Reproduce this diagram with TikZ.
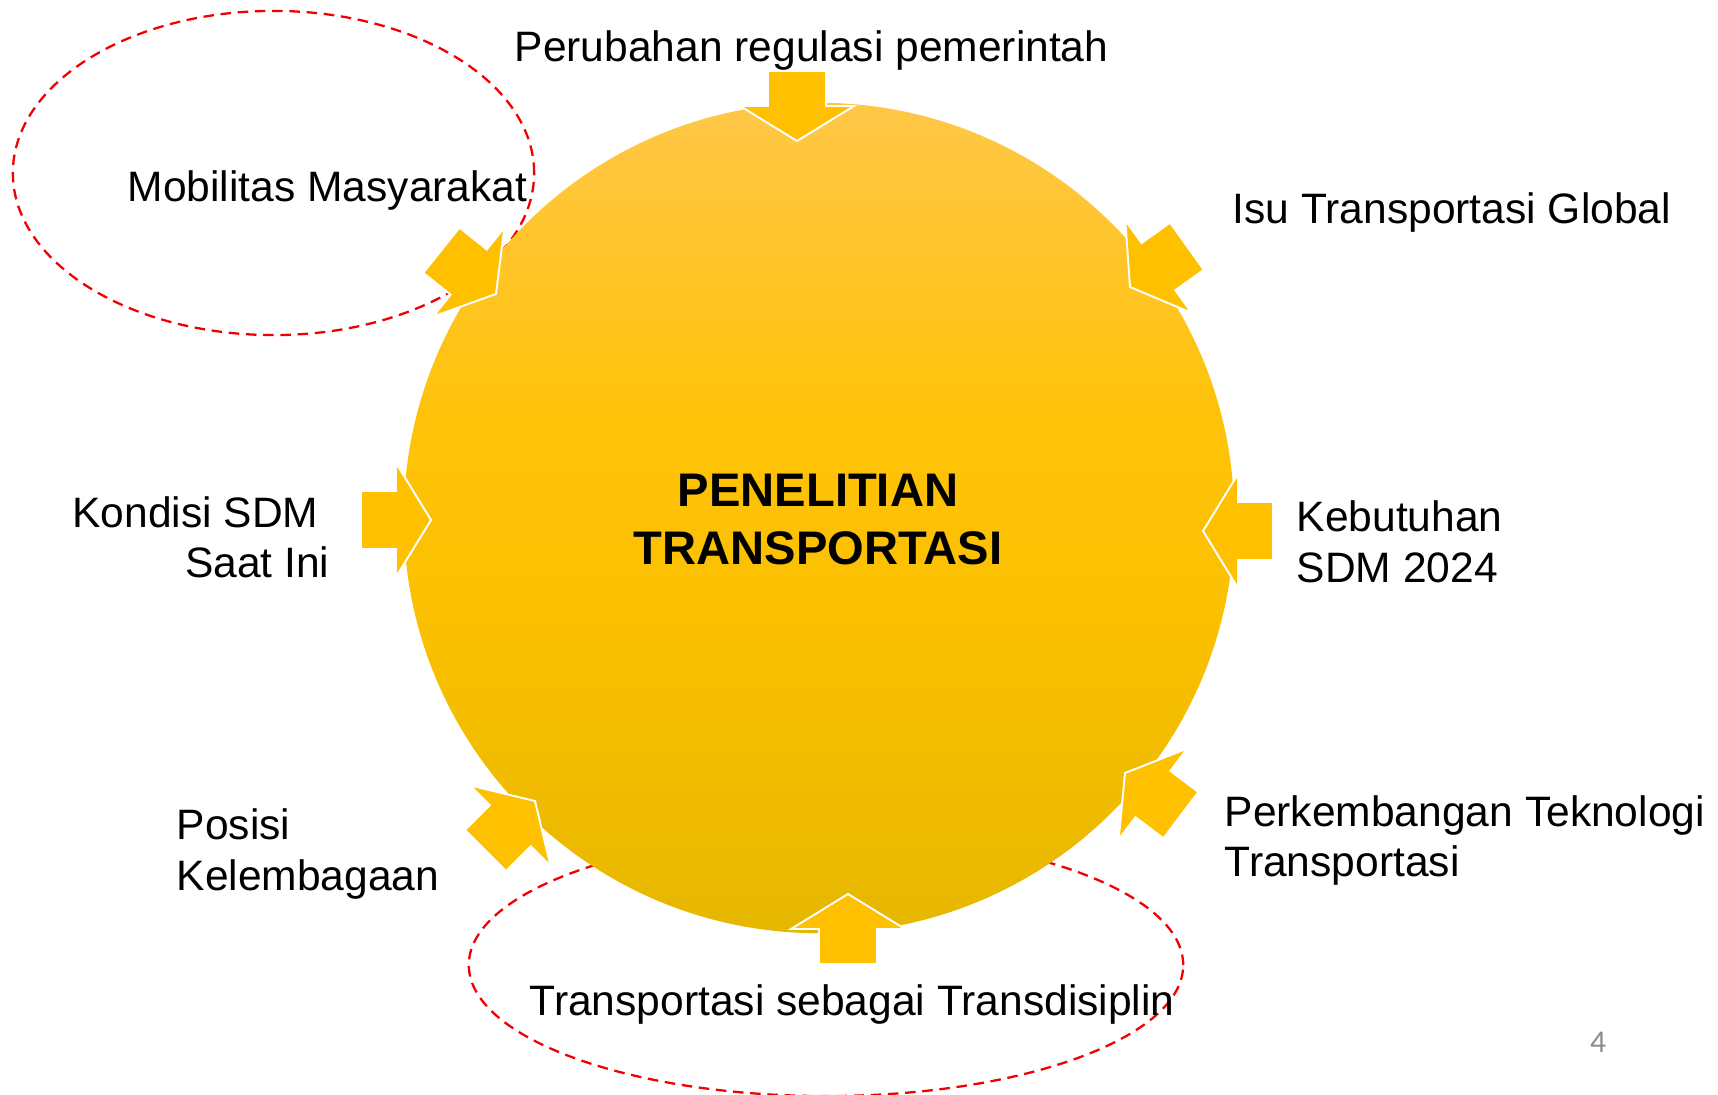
\documentclass[tikz,border=0pt]{standalone}
\usepackage{fontspec}
\setmainfont{Liberation Sans}
\newfontfamily\numfont{Carlito}
\definecolor{arrowyellow}{RGB}{255,192,0}
\definecolor{circtop}{RGB}{255,199,72}
\definecolor{circmid}{RGB}{255,194,8}
\definecolor{circlow}{RGB}{250,192,0}
\definecolor{circbot}{RGB}{230,183,0}
\definecolor{dashred}{RGB}{240,0,0}
\definecolor{pagegray}{RGB}{140,140,140}
\pgfdeclareverticalshading{circshade}{100bp}{color(0bp)=(circbot); color(25bp)=(circbot); color(43bp)=(circlow); color(56bp)=(circmid); color(75bp)=(circtop); color(100bp)=(circtop)}
\tikzset{
  arrowfill/.style={fill=arrowyellow, draw=white, line width=0.55pt, line join=miter},
  ringdash/.style={draw=dashred, line width=0.65pt, dash pattern=on 3pt off 1.9pt},
  lbl/.style={inner sep=0pt, font=\fontsize{12.1}{14.5}\selectfont, text=black},
  title/.style={inner sep=0pt, font=\fontsize{13.4}{16}\selectfont\bfseries, text=black},
}
\newcommand{\blockarrow}[3]{%
  \begin{scope}[shift={(#1,#2)}, rotate=#3]
    \path[arrowfill] (0,0) -- (-35,57) -- (-35,29) -- (-70,29) -- (-70,-29) -- (-35,-29) -- (-35,-57) -- cycle;
  \end{scope}}
\begin{document}
\begin{tikzpicture}[x=0.01cm, y=-0.01cm]
\useasboundingbox (0,0) rectangle (1718,1095);
% dashed ellipses
\draw[ringdash] (273.5,173) ellipse [x radius=2.605cm, y radius=1.62cm];
\draw[ringdash] (826,965) ellipse [x radius=3.57cm, y radius=1.31cm];
% central circle
\shade[shading=circshade] (819,518) circle [radius=4.15cm];
% arrows
\blockarrow{797}{141}{-90}
\blockarrow{1130}{287}{215.6}
\blockarrow{1203}{531}{180}
\blockarrow{1125}{773}{143}
\blockarrow{848}{894}{90}
\blockarrow{535}{801}{45}
\blockarrow{431}{520}{0}
\blockarrow{496}{294}{-38.7}
% texts
\node[title, anchor=base] (t1) at (818,507) {PENELITIAN};
\node[title, anchor=base] (t2) at (818,565) {TRANSPORTASI};
\node[lbl, anchor=base west] (reg) at (514,62) {Perubahan regulasi pemerintah};
\node[lbl, anchor=base west] (mob) at (127,202) {Mobilitas Masyarakat};
\node[lbl, anchor=base west] (isu) at (1232,224) {Isu Transportasi Global};
\node[lbl, anchor=base east] (kon1) at (319,528) {Kondisi SDM};
\node[lbl, anchor=base east] (kon2) at (330,578) {Saat Ini};
\node[lbl, anchor=base west] (keb1) at (1296,532) {Kebutuhan};
\node[lbl, anchor=base west] (keb2) at (1296,583) {SDM 2024};
\node[lbl, anchor=base west] (tek1) at (1224,827) {Perkembangan Teknologi};
\node[lbl, anchor=base west] (tek2) at (1224,877) {Transportasi};
\node[lbl, anchor=base west] (pos1) at (176,840) {Posisi};
\node[lbl, anchor=base west] (pos2) at (176,891) {Kelembagaan};
\node[lbl, anchor=base west] (trd) at (529,1016) {Transportasi sebagai Transdisiplin};
\node[inner sep=0pt, anchor=base, text=pagegray, font=\numfont\fontsize{9}{11}\selectfont] (pg) at (1598,1053) {4};
\end{tikzpicture}
\end{document}
